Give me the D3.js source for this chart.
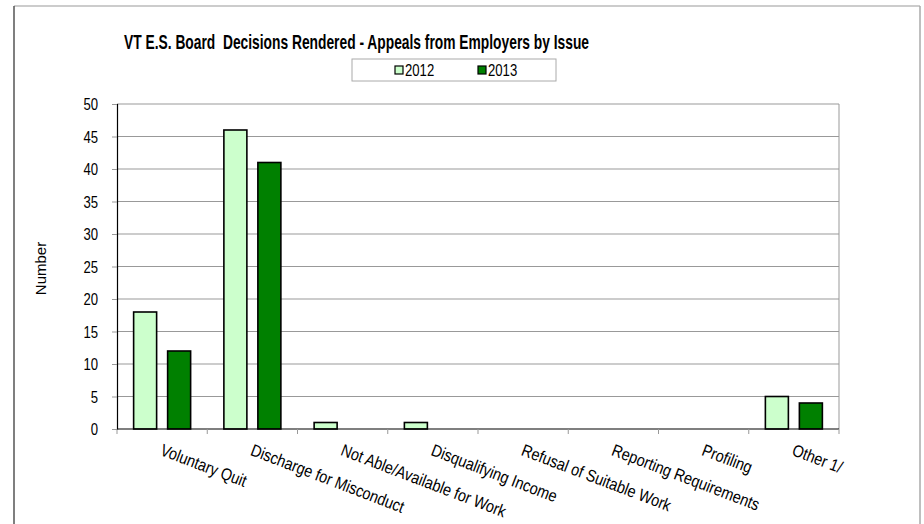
<!DOCTYPE html>
<html>
<head>
<meta charset="utf-8">
<script src="https://cdn.jsdelivr.net/npm/d3@7"></script>
<style>
  body { margin: 0; background: #fff; }
  text { font-family: "Liberation Sans", Arial, sans-serif; }
</style>
</head>
<body>
<div id="chart"></div>
<script>
// chart values
var categories = ["Voluntary Quit", "Discharge for Misconduct", "Not Able/Available for Work",
    "Disqualifying Income", "Refusal of Suitable Work", "Reporting Requirements", "Profiling", "Other 1/"];
var values2012 = [18, 46, 1, 1, 0, 0, 0, 5];
var values2013 = [12, 41, 0, 0, 0, 0, 0, 4];
var seriesNames = ["2012", "2013"];
var yTicks = [0, 5, 10, 15, 20, 25, 30, 35, 40, 45, 50];

var colors = ["#ccffcc", "#008000"];
var narrow = 0.82; // no Arial Narrow here, squeeze Liberation Sans instead

var width = 924, height = 524;
var margin = { top: 104, right: 85, bottom: 95, left: 117 },
    plotW = width - margin.left - margin.right,
    plotH = height - margin.top - margin.bottom;

var svg = d3.select("#chart")
    .append("svg")
    .attr("width", width)
    .attr("height", height);

// outer chart frame
svg.append("line").attr("x1", 14).attr("x2", 920).attr("y1", 6).attr("y2", 6)
    .attr("stroke", "#bbb").attr("stroke-width", 1.5);
svg.append("line").attr("x1", 14).attr("x2", 14).attr("y1", 6).attr("y2", 524)
    .attr("stroke", "#555").attr("stroke-width", 1.5);
svg.append("line").attr("x1", 920).attr("x2", 920).attr("y1", 6).attr("y2", 524)
    .attr("stroke", "#aaa").attr("stroke-width", 1.5);

var g = svg.append("g")
    .attr("transform", "translate(" + margin.left + "," + margin.top + ")");

var x = d3.scaleBand()
    .domain(categories)
    .range([0, plotW]);

var y = d3.scaleLinear()
    .domain([0, 50])
    .range([plotH, 0]);

// gridlines
g.append("g")
    .selectAll("line")
    .data(yTicks.filter(function (d) { return d > 0; }))
    .enter()
    .append("line")
    .attr("x1", 0).attr("x2", plotW)
    .attr("y1", function (d) { return y(d); })
    .attr("y2", function (d) { return y(d); })
    .attr("stroke", "#999")
    .attr("stroke-width", 1);

// right border of plot
g.append("line").attr("x1", plotW).attr("x2", plotW).attr("y1", 0).attr("y2", plotH)
    .attr("stroke", "#999");

// y axis
var yAxis = g.append("g")
    .call(d3.axisLeft(y).tickValues(yTicks).tickSize(5).tickPadding(0).tickFormat(""));
yAxis.select(".domain").attr("stroke", "#000").attr("stroke-width", 1.2);
yAxis.selectAll(".tick line").attr("stroke", "#999");
yAxis.selectAll(".tick")
    .append("text")
    .attr("transform", "translate(-19,0) scale(" + narrow + ",1)")
    .attr("dy", "0.36em")
    .attr("text-anchor", "end")
    .attr("font-size", "16px")
    .attr("fill", "#000")
    .style("font-family", "'Liberation Sans', Arial, sans-serif")
    .text(function (d) { return d; });

// bars
var barW = 23, gap = 11;
var offset = (x.bandwidth() - 2 * barW - gap) / 2;
var series = [values2012, values2013];

series.forEach(function (vals, si) {
    var rows = vals.map(function (v, i) { return { cat: categories[i], value: v }; })
        .filter(function (d) { return d.value > 0; });
    g.append("g")
        .selectAll("rect")
        .data(rows)
        .enter()
        .append("rect")
        .attr("x", function (d) { return x(d.cat) + offset + si * (barW + gap); })
        .attr("y", function (d) { return y(d.value); })
        .attr("width", barW)
        .attr("height", function (d) { return y(0) - y(d.value); })
        .attr("fill", colors[si])
        .attr("stroke", "#000")
        .attr("stroke-width", 1.6);
});

// x axis
var xAxis = g.append("g")
    .attr("transform", "translate(0," + plotH + ")");
xAxis.append("line").attr("x1", 0).attr("x2", plotW).attr("y1", 0).attr("y2", 0)
    .attr("stroke", "#000").attr("stroke-width", 1.2);
xAxis.selectAll("line.tk")
    .data(d3.range(categories.length + 1))
    .enter()
    .append("line")
    .attr("class", "tk")
    .attr("x1", function (d) { return d * x.step(); })
    .attr("x2", function (d) { return d * x.step(); })
    .attr("y1", 0).attr("y2", 5)
    .attr("stroke", "#999");

xAxis.selectAll("text.cat")
    .data(categories)
    .enter()
    .append("text")
    .attr("class", "cat")
    .attr("transform", function (d) {
        return "translate(" + (x(d) + x.bandwidth() / 2 + 2) + ",13) rotate(21) scale(0.85,1)";
    })
    .attr("dy", "0.8em")
    .attr("font-size", "17px")
    .attr("fill", "#000")
    .text(function (d) { return d; });

// y label
svg.append("text")
    .attr("transform", "translate(46," + (margin.top + plotH / 2 + 2) + ") rotate(-90)")
    .attr("text-anchor", "middle")
    .attr("font-size", "15px")
    .text("Number");

// title
svg.append("text")
    .attr("x", 124)
    .attr("y", 49)
    .attr("textLength", 465)
    .attr("lengthAdjust", "spacingAndGlyphs")
    .attr("font-size", "21px")
    .attr("font-weight", "bold")
    .style("white-space", "pre")
    .text("VT E.S. Board  Decisions Rendered - Appeals from Employers by Issue");

// legend
var legend = svg.append("g");
legend.append("rect")
    .attr("x", 352).attr("y", 59).attr("width", 204).attr("height", 22)
    .attr("fill", "#fff").attr("stroke", "#aaa");
var legX = [395, 478];
seriesNames.forEach(function (s, i) {
    legend.append("rect")
        .attr("x", legX[i]).attr("y", 66).attr("width", 8).attr("height", 8)
        .attr("fill", colors[i]).attr("stroke", "#000").attr("stroke-width", 1.2);
    legend.append("text")
        .attr("transform", "translate(" + (legX[i] + 10) + ",76) scale(" + narrow + ",1)")
        .attr("font-size", "16px")
        .text(s);
});
</script>
</body>
</html>
